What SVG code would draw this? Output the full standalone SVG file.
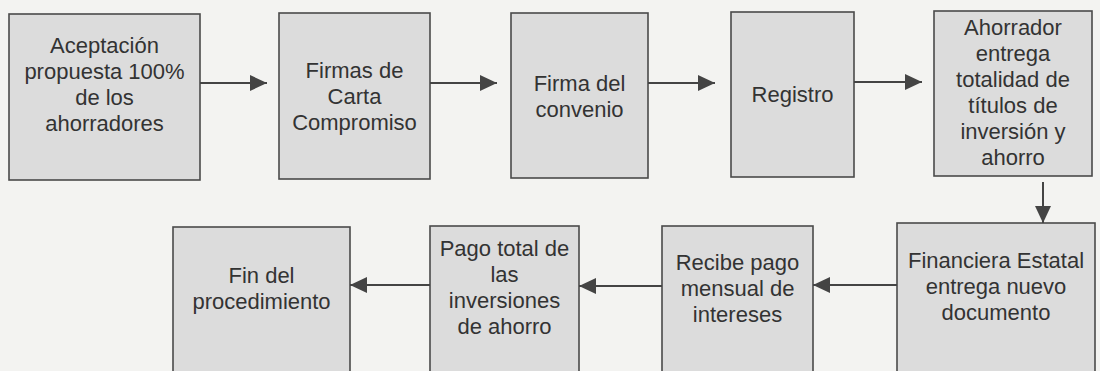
<svg xmlns="http://www.w3.org/2000/svg" width="1100" height="371" viewBox="0 0 1100 371">
<style>
.box{fill:#dcdcdc;stroke:#4a4a4a;stroke-width:1.6}
.lbl{font-family:"Liberation Sans",Arial,Helvetica,sans-serif;font-size:22px;fill:#333;text-anchor:middle}
.con{stroke:#444;stroke-width:2;fill:none;marker-end:url(#ah)}
</style>
<defs>
<marker id="ah" markerUnits="userSpaceOnUse" markerWidth="18" markerHeight="18" refX="17" refY="8" orient="auto">
<path d="M0,0 L17,8 L0,16 z" fill="#444"/>
</marker>
</defs>
<rect x="0" y="0" width="1100" height="371" fill="#f3f3f1"/>

<g id="n1">
<rect class="box" x="9" y="14" width="191" height="166"/>
<text class="lbl" x="104.5" y="53">Aceptación</text>
<text class="lbl" x="104.5" y="79">propuesta 100%</text>
<text class="lbl" x="104.5" y="105">de los</text>
<text class="lbl" x="104.5" y="131">ahorradores</text>
</g>
<g id="n2">
<rect class="box" x="279" y="13" width="151" height="166"/>
<text class="lbl" x="354.5" y="78">Firmas de</text>
<text class="lbl" x="354.5" y="104">Carta</text>
<text class="lbl" x="354.5" y="130">Compromiso</text>
</g>
<g id="n3">
<rect class="box" x="511" y="13" width="137" height="165"/>
<text class="lbl" x="579.5" y="91">Firma del</text>
<text class="lbl" x="579.5" y="117">convenio</text>
</g>
<g id="n4">
<rect class="box" x="731" y="12" width="123" height="165"/>
<text class="lbl" x="792.5" y="102">Registro</text>
</g>
<g id="n5">
<rect class="box" x="934" y="11" width="158" height="165"/>
<text class="lbl" x="1013" y="35">Ahorrador</text>
<text class="lbl" x="1013" y="61">entrega</text>
<text class="lbl" x="1013" y="87">totalidad de</text>
<text class="lbl" x="1013" y="113">títulos de</text>
<text class="lbl" x="1013" y="139">inversión y</text>
<text class="lbl" x="1013" y="165">ahorro</text>
</g>
<g id="n6">
<rect class="box" x="897" y="223" width="198" height="160"/>
<text class="lbl" x="996" y="268">Financiera Estatal</text>
<text class="lbl" x="996" y="294">entrega nuevo</text>
<text class="lbl" x="996" y="320">documento</text>
</g>
<g id="n7">
<rect class="box" x="662" y="226" width="151" height="160"/>
<text class="lbl" x="737.5" y="270">Recibe pago</text>
<text class="lbl" x="737.5" y="296">mensual de</text>
<text class="lbl" x="737.5" y="322">intereses</text>
</g>
<g id="n8">
<rect class="box" x="430" y="226" width="149" height="160"/>
<text class="lbl" x="504.5" y="256">Pago total de</text>
<text class="lbl" x="504.5" y="282">las</text>
<text class="lbl" x="504.5" y="308">inversiones</text>
<text class="lbl" x="504.5" y="334">de ahorro</text>
</g>
<g id="n9">
<rect class="box" x="173" y="227" width="177" height="160"/>
<text class="lbl" x="261.5" y="283">Fin del</text>
<text class="lbl" x="261.5" y="309">procedimiento</text>
</g>

<g id="connectors">
<line class="con" x1="200" y1="83" x2="267" y2="83"/>
<line class="con" x1="430" y1="83" x2="497" y2="83"/>
<line class="con" x1="648" y1="83" x2="715" y2="83"/>
<line class="con" x1="854" y1="82" x2="922" y2="82"/>
<line class="con" x1="1043" y1="182" x2="1043" y2="223"/>
<line class="con" x1="897" y1="285" x2="813" y2="285"/>
<line class="con" x1="662" y1="286" x2="579" y2="286"/>
<line class="con" x1="430" y1="285" x2="350" y2="285"/>
</g>
</svg>
